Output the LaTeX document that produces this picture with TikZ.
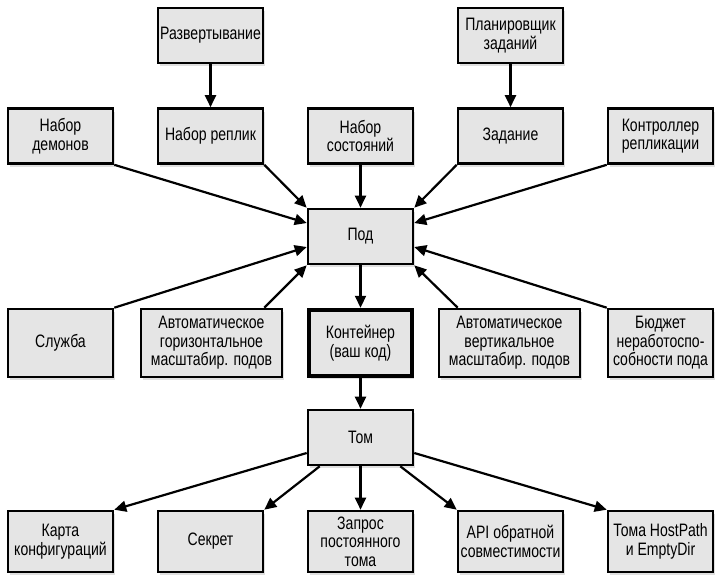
\documentclass[tikz,border=0pt]{standalone}
\usepackage{fontspec}
\setmainfont{Liberation Sans}[FakeStretch=0.78]
\usetikzlibrary{arrows.meta,shadows}
\tikzset{
  kube box/.style={draw,line width=2.6pt,fill=black!10,minimum width=105pt,minimum height=55pt,
    inner sep=1pt,align=center,font=\fontsize{18}{18.5}\selectfont,
    drop shadow={shadow xshift=1.5pt,shadow yshift=-3pt,opacity=0.25}},
  kube tall/.style={kube box,minimum height=68pt},
  kube wide/.style={kube tall,minimum width=141pt},
  kube main/.style={kube tall,line width=4.5pt,minimum width=103pt,minimum height=66pt},
  kube low/.style={kube box,minimum height=61pt},
  kube edge/.style={-{Triangle[length=12pt,width=11pt]},line width=2.2pt},
}

\begin{document}
\begin{tikzpicture}[x=1pt,y=-1pt]
  \useasboundingbox (0,0) rectangle (727,581);
  % controllers
  \node[kube box] (dep) at (210.5,35.5) {Развертывание};
  \node[kube box] (cron) at (510.5,35.5) {Планировщик\\заданий};
  \node[kube box] (ds) at (60.5,136) {Набор\\демонов};
  \node[kube box] (rs) at (210.5,136) {Набор реплик};
  \node[kube box] (ss) at (360.5,136) {Набор\\состояний};
  \node[kube box] (job) at (510.5,136) {Задание};
  \node[kube box] (rc) at (660.5,136) {Контроллер\\репликации};
  % pod
  \node[kube box] (pod) at (360.5,236.5) {Под};
  \node[kube tall] (svc) at (60.5,343) {Служба};
  \node[kube wide] (hpa) at (211.5,343) {Автоматическое\\горизонтальное\\масштабир. подов};
  \node[kube main] (ctr) at (360.5,343) {Контейнер\\(ваш код)};
  \node[kube wide] (vpa) at (509.5,343) {Автоматическое\\вертикальное\\масштабир. подов};
  \node[kube tall] (pdb) at (660.5,343) {Бюджет\\неработоспо-\\собности пода};
  % volumes
  \node[kube box] (vol) at (360.5,437.5) {Том};
  \node[kube low] (cm) at (60.5,541.5) {Карта\\конфигураций};
  \node[kube low] (sec) at (210.5,541.5) {Секрет};
  \node[kube low] (pvc) at (360.5,541.5) {Запрос\\постоянного\\тома};
  \node[kube low] (api) at (510.5,541.5) {API обратной\\совместимости};
  \node[kube low] (hp) at (660.5,541.5) {Тома HostPath\\и EmptyDir};

  \foreach \u/\v in {dep/rs,cron/job,ss/pod,pod/ctr,ctr/vol,vol/pvc}
    \draw[kube edge] (\u) -- (\v);
  \draw[kube edge] (ds.south east) -- ([yshift=13.5pt]pod.west);
  \draw[kube edge] (rs.south east) -- (pod.north west);
  \draw[kube edge] (job.south west) -- (pod.north east);
  \draw[kube edge] (rc.south west) -- ([yshift=13.5pt]pod.east);
  \draw[kube edge] (svc.north east) -- ([yshift=-10.5pt]pod.west);
  \draw[kube edge] ([xshift=-19pt]hpa.north east) -- (pod.south west);
  \draw[kube edge] ([xshift=20pt]vpa.north west) -- (pod.south east);
  \draw[kube edge] (pdb.north west) -- ([yshift=-10.5pt]pod.east);
  \draw[kube edge] ([yshift=-15.5pt]vol.west) -- (cm.north east);
  \draw[kube edge] ([xshift=13pt]vol.south west) -- (sec.north east);
  \draw[kube edge] ([xshift=-14pt]vol.south east) -- (api.north west);
  \draw[kube edge] ([yshift=-15.5pt]vol.east) -- (hp.north west);
\end{tikzpicture}
\end{document}
